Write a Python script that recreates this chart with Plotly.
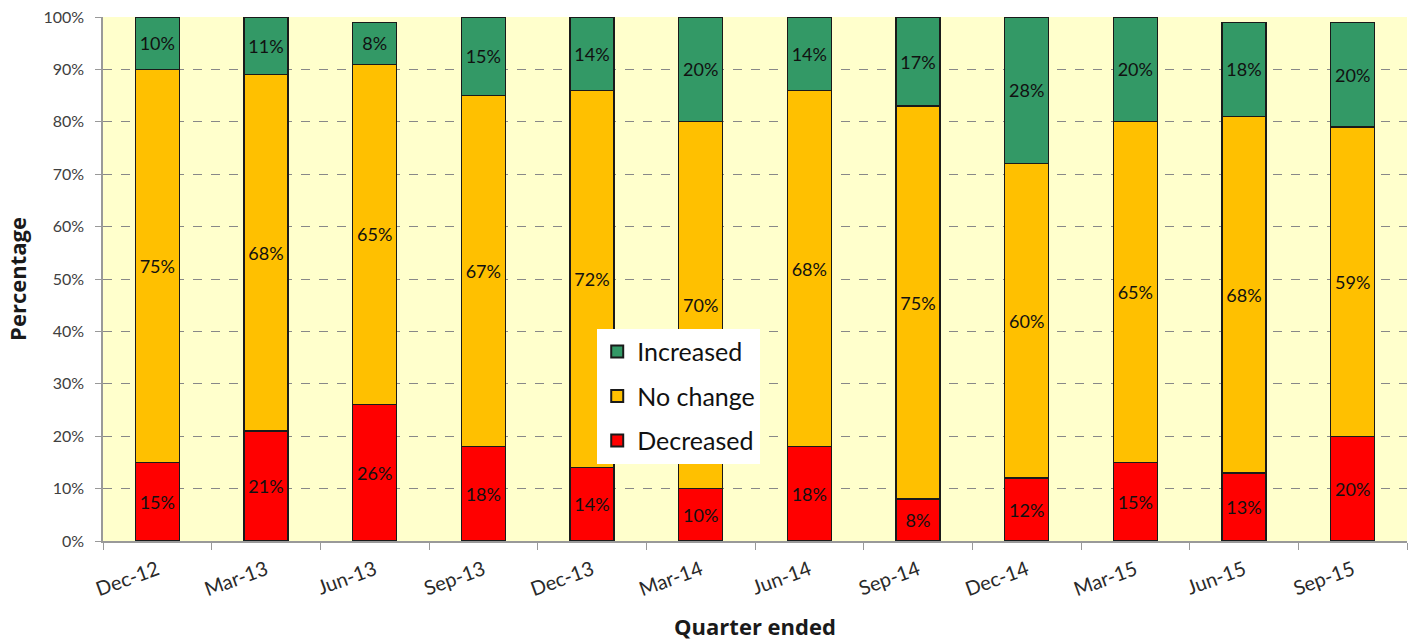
import plotly.graph_objects as go

quarters = ["Dec-12", "Mar-13", "Jun-13", "Sep-13", "Dec-13", "Mar-14",
            "Jun-14", "Sep-14", "Dec-14", "Mar-15", "Jun-15", "Sep-15"]
decreased = [15, 21, 26, 18, 14, 10, 18, 8, 12, 15, 13, 20]
no_change = [75, 68, 65, 67, 72, 70, 68, 75, 60, 65, 68, 59]
increased = [10, 11, 8, 15, 14, 20, 14, 17, 28, 20, 18, 20]

FONT = "Lato, 'Open Sans', sans-serif"
TITLE_FONT = "'Open Sans', Lato, sans-serif"

# stacked bottom-to-top; legend lists top segment first
series = [
    ("Decreased", decreased, "#FF0000", 3),
    ("No change", no_change, "#FFC000", 2),
    ("Increased", increased, "#339966", 1),
]

fig = go.Figure()
for name, vals, color, rank in series:
    fig.add_trace(go.Bar(
        x=quarters, y=vals, name=name, legendgroup=name, legendrank=rank,
        marker=dict(color=color, line=dict(color="#1a1a1a", width=1.3)),
        text=[f"{v}%" for v in vals],
        textposition="inside", insidetextanchor="middle",
        textangle=0, constraintext="none",
        textfont=dict(family=FONT, size=18, color="#111111"),
    ))

fig.update_layout(
    barmode="stack",
    bargap=0.595,
    width=1414, height=644,
    margin=dict(l=103, r=7, t=17, b=103, autoexpand=False),
    paper_bgcolor="white",
    plot_bgcolor="#FFFFCC",
    font=dict(family=FONT, color="#333333"),
    legend=dict(
        traceorder="grouped",
        x=0.379, y=0.405, xanchor="left", yanchor="top",
        bgcolor="white",
        font=dict(family=FONT, size=25, color="#111111"),
        itemsizing="constant",
        tracegroupgap=9,
    ),
    xaxis=dict(
        title=dict(text="<b>Quarter ended</b>", font=dict(family=TITLE_FONT, size=22, color="#1a1a1a"), standoff=20),
        automargin=False,
        tickangle=-20,
        tickfont=dict(family=FONT, size=20, color="#2a2a2a"),
        ticklabelstandoff=8,
        showline=True, linecolor="#999999", linewidth=1.5,
        ticks="outside", ticklen=7, tickcolor="#999999", tickson="boundaries",
        showgrid=False,
    ),
    yaxis=dict(
        title=dict(text="<b>Percentage</b>", font=dict(family=TITLE_FONT, size=22, color="#1a1a1a"), standoff=11),
        automargin=False,
        range=[0, 100], dtick=10, ticksuffix="%",
        tickfont=dict(family=FONT, size=16, color="#404040"),
        ticklabelstandoff=8,
        showline=True, linecolor="#999999", linewidth=1.5,
        ticks="outside", ticklen=6, tickcolor="#999999",
        showgrid=True, gridcolor="#888888", griddash="dash", gridwidth=1,
        zeroline=False,
    ),
)

fig.write_html("out.html")
